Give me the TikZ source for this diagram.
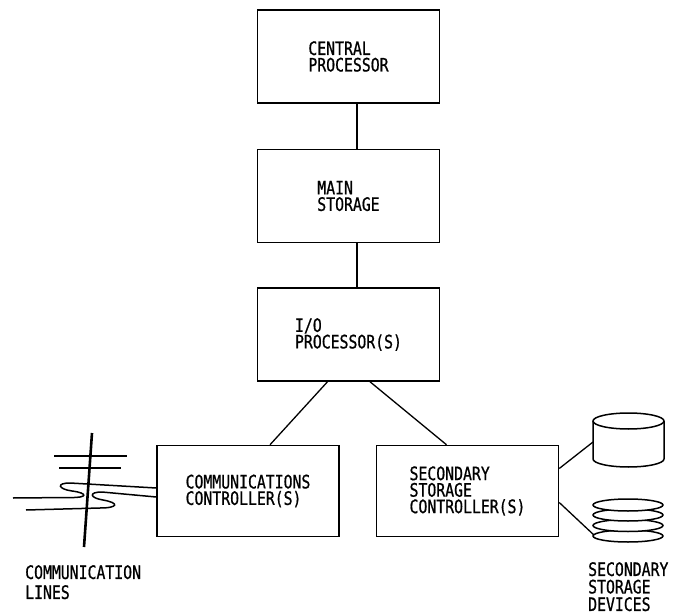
\documentclass[tikz,border=0pt]{standalone}
\usepackage{fontspec}
\setmainfont{DejaVu Sans Mono}[FakeStretch=0.8, FakeBold=0.8]
\usetikzlibrary{positioning}

\begin{document}
\begin{tikzpicture}[x=1pt,y=-1pt,
    font=\fontsize{18.5pt}{16.5pt}\selectfont,
    box/.style={draw, line width=1.5pt, minimum width=182pt, minimum height=93pt, align=left, inner sep=0pt},
    link/.style={line width=1.3pt},
    wire/.style={line width=1.5pt}]
      \useasboundingbox (0,0) rectangle (677,612);

      \node[box] (cpu) at (348.5,56.5) {CENTRAL\\PROCESSOR};
      \node[box, below=45pt of cpu] (mem) {MAIN\\STORAGE};
      \node[box, below=44pt of mem] (iop) {I/O\\PROCESSOR(S)};
      \node[box, minimum height=91pt, below=63pt of iop, xshift=-100.5pt] (comm) {COMMUNICATIONS\\CONTROLLER(S)};
      \node[box, minimum height=91pt, right=36pt of comm] (sec) {SECONDARY\\STORAGE\\CONTROLLER(S)};
      \coordinate (disk) at (628.5,421);
      \coordinate (pack) at (628,536);

      \draw[link] ([xshift=8.5pt]cpu.south) -- ([xshift=8.5pt]mem.north);
      \draw[link] ([xshift=8.5pt]mem.south) -- ([xshift=8.5pt]iop.north);
      \draw[link] ([xshift=-21pt]iop.south) -- ([xshift=22pt]comm.north);
      \draw[link] ([xshift=21.5pt]iop.south) -- ([xshift=-21pt]sec.north);
      \draw[link] ([yshift=22.5pt]sec.east) -- ([xshift=-35.5pt,yshift=-21pt]disk);
      \draw[link] ([yshift=-11.5pt]sec.east) -- ([xshift=-33pt]pack);

      \draw[wire] (disk) ellipse [x radius=35.5pt, y radius=8pt];
      \draw[wire] ([xshift=-35.5pt]disk) -- ++(0,38) arc [start angle=180, end angle=360, x radius=35.5pt, y radius=8pt] -- ++(0,-38);
      \foreach \dy in {0,10.5,21,31}
        \draw[wire, fill=white] ([yshift=\dy pt]pack) ellipse [x radius=35pt, y radius=6pt];

      \draw[line width=2.6pt] (92,433) -- (84,547);
      \draw[line width=2pt] (54,456) -- (127,456);
      \draw[line width=2pt] (59,468) -- (121,468);
      \draw[wire] ([yshift=3pt]comm.west) -- (70,483) .. controls (56,483) and (58,489) .. (72,491)
        .. controls (88,493) and (88,498) .. (70,497.5) -- (13,498);
      \draw[wire] ([yshift=-6pt]comm.west) -- (102,492) .. controls (88,492) and (90,498) .. (103,500)
        .. controls (120,503) and (118,508) .. (100,508) -- (26,510);

      \node[anchor=north west, inner sep=0pt, align=left, font=\fontsize{18.5pt}{20pt}\selectfont]
        (lines) at (25,565) {COMMUNICATION\\LINES};
      \node[anchor=north west, inner sep=0pt, align=left, font=\fontsize{18.5pt}{17.5pt}\selectfont]
        (devs) at (588,562) {SECONDARY\\STORAGE\\DEVICES};
\end{tikzpicture}
\end{document}
